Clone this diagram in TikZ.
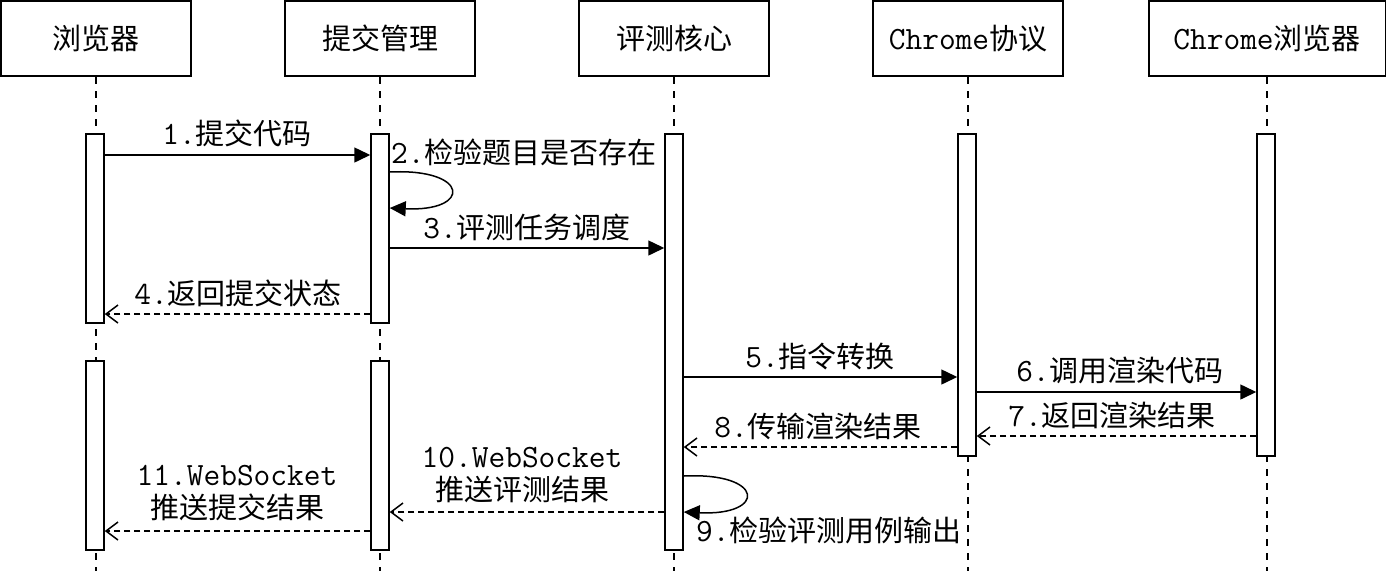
\documentclass[tikz,border=0pt]{standalone}
\usepackage{fontspec}
\setmainfont{Noto Sans CJK SC}
\usetikzlibrary{arrows.meta}
\newcommand{\lat}[1]{{\ttfamily\fontsize{32.5}{33}\selectfont #1}}
\tikzset{head/.style={draw,line width=2pt,minimum width=#1,minimum height=75pt,inner sep=0pt},head/.default=190pt}
\tikzset{bar/.style={draw,fill=white,line width=1.5pt,minimum width=18pt,minimum height=#1,inner sep=0pt}}
\tikzset{life/.style={line width=1.5pt,dash pattern=on 7pt off 7pt}}
\tikzset{call/.style={line width=1.5pt,-{Triangle[length=16pt,width=15pt]}}}
\tikzset{ret/.style={line width=1.5pt,dash pattern=on 6pt off 4pt,-{Straight Barb[length=12pt,width=18pt,line width=1.5pt]}}}
\tikzset{lbl/.style={inner sep=0pt,align=center}}

\begin{document}
\begin{tikzpicture}[x=1pt,y=-1pt,font=\fontsize{29}{33}\selectfont]
	\useasboundingbox (0,0) rectangle (1386,571);

	% Kopfzeile
	\node[head] (brw) at (96,38.5) {浏览器};
	\node[head] (sub) at (380,38.5) {提交管理};
	\node[head] (core) at (674,38.5) {评测核心};
	\node[head] (cdp) at (968,38.5) {\lat{Chrome}协议};
	\node[head=237pt] (chr) at (1267,38.5) {\lat{Chrome}浏览器};

	% Lebenslinien
	\foreach \n in {brw,sub,core,cdp,chr}
		\draw[life] (\n.south) -- (\n.south |- 0,571);

	% Aktivierungen
	\node[bar=189pt] (a1) at (95,228.5) {};
	\node[bar=189pt] (b1) at (95,455.5) {};
	\node[bar=189pt] (a2) at (380,228.5) {};
	\node[bar=189pt] (b2) at (380,455.5) {};
	\node[bar=416pt] (a3) at (674,342) {};
	\node[bar=322pt] (a4) at (967,295) {};
	\node[bar=322pt] (a5) at (1266,295) {};

	% Nachrichten
	\draw[call] (a1.east |- 0,155) -- (a2.west |- 0,155);
	\node[lbl] (m1) at (237,133) {\lat{1.}提交代码};

	\draw[call] (a2.east |- 0,172) .. controls (470,168) and (472,212) .. (a2.east |- 0,208);
	\node[lbl,anchor=west] (m2) at (391,152) {\lat{2.}检验题目是否存在};

	\draw[call] (a2.east |- 0,248) -- (a3.west |- 0,248);
	\node[lbl] (m3) at (527,227) {\lat{3.}评测任务调度};

	\draw[ret] (a2.west |- 0,314) -- (a1.east |- 0,314);
	\node[lbl] (m4) at (238,293) {\lat{4.}返回提交状态};

	\draw[call] (a3.east |- 0,377) -- (a4.west |- 0,377);
	\node[lbl] (m5) at (820,356) {\lat{5.}指令转换};

	\draw[call] (a4.east |- 0,392) -- (a5.west |- 0,392);
	\node[lbl] (m6) at (1120,371) {\lat{6.}调用渲染代码};

	\draw[ret] (a5.west |- 0,436) -- (a4.east |- 0,436);
	\node[lbl] (m7) at (1112,415) {\lat{7.}返回渲染结果};

	\draw[ret] (a4.west |- 0,447) -- (a3.east |- 0,447);
	\node[lbl] (m8) at (818,426) {\lat{8.}传输渲染结果};

	\draw[call] (a3.east |- 0,476) .. controls (765,472) and (767,516) .. (a3.east |- 0,512);
	\node[lbl,anchor=west] (m9) at (696,530) {\lat{9.}检验评测用例输出};

	\draw[ret] (a3.west |- 0,512) -- (b2.east |- 0,512);
	\node[lbl] (m10) at (522,475) {\lat{10.WebSocket}\\推送评测结果};

	\draw[ret] (b2.west |- 0,531) -- (b1.east |- 0,531);
	\node[lbl] (m11) at (237,493) {\lat{11.WebSocket}\\推送提交结果};
\end{tikzpicture}
\end{document}
